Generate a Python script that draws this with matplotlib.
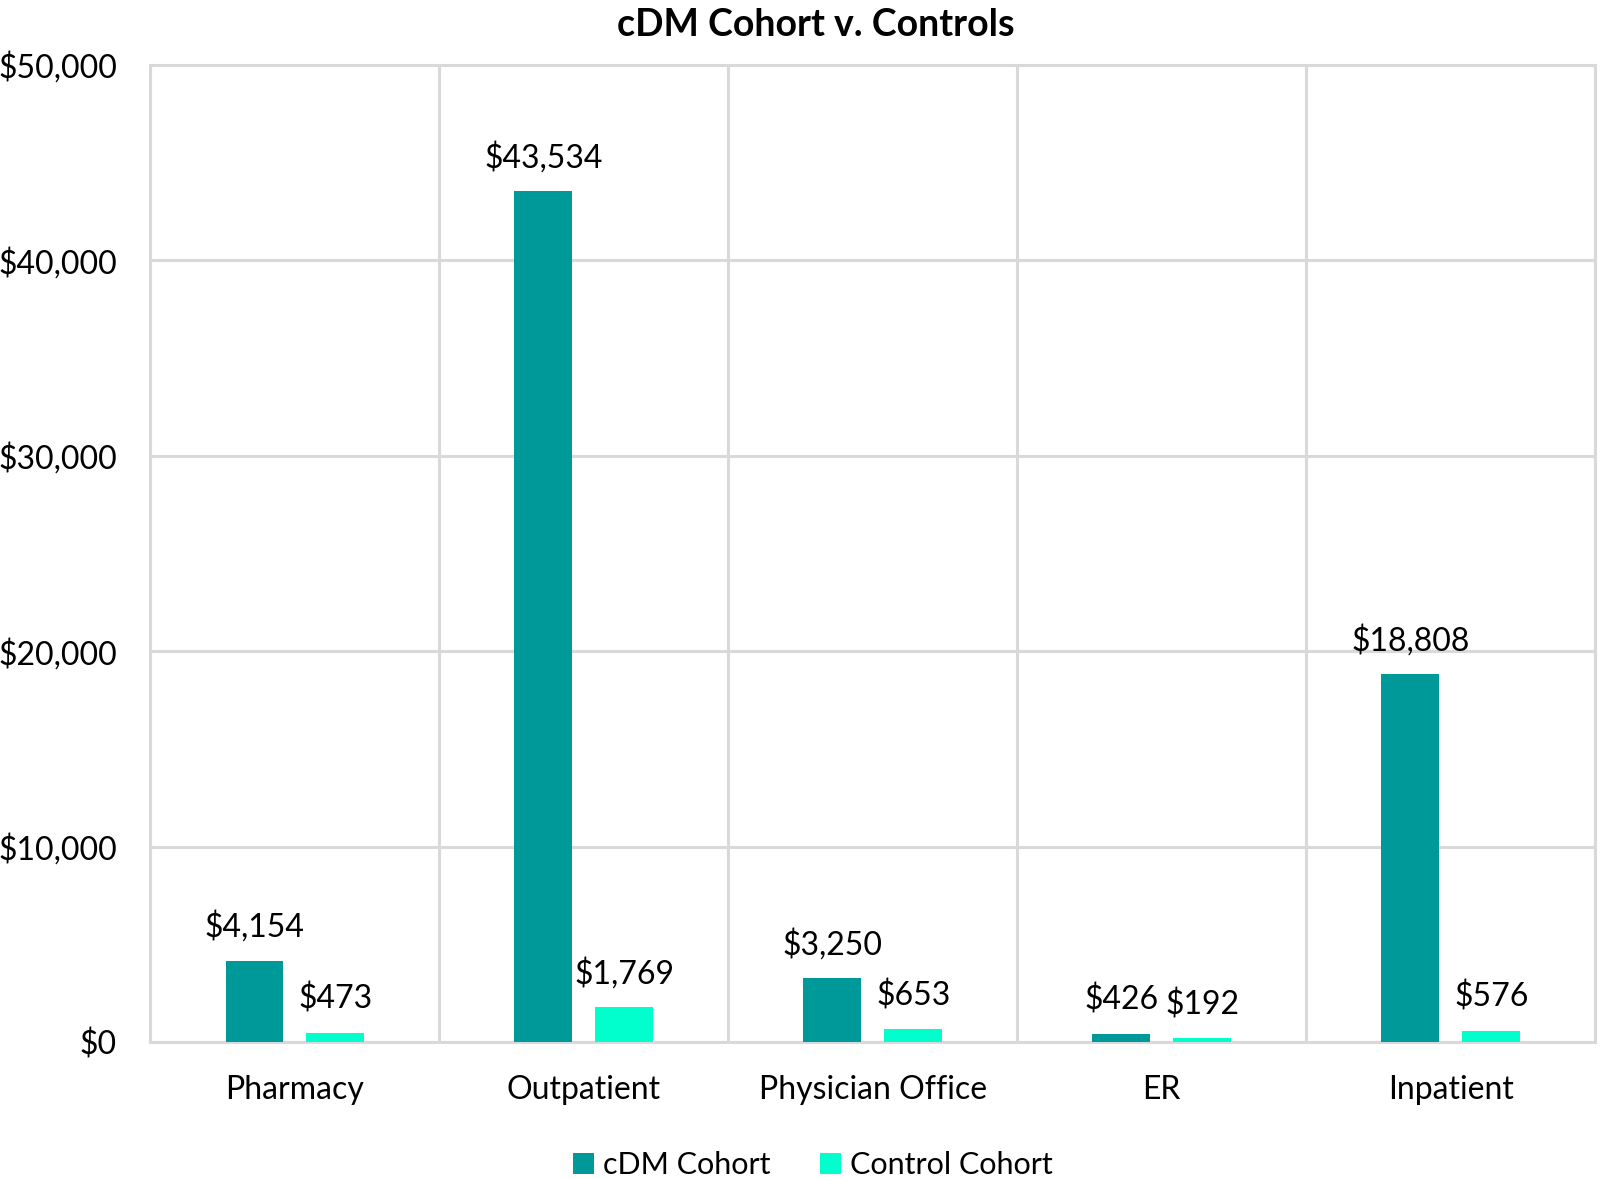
import numpy as np
import matplotlib.pyplot as plt
from matplotlib.ticker import FuncFormatter, MultipleLocator

categories = ['Pharmacy', 'Outpatient', 'Physician Office', 'ER', 'Inpatient']
cdm_cohort = [4154, 43534, 3250, 426, 18808]
control_cohort = [473, 1769, 653, 192, 576]

plt.rcParams['font.family'] = ['Lato', 'DejaVu Sans']

fig = plt.figure(figsize=(16, 11.81), dpi=100)
ax = fig.add_axes([0.094, 0.1177, 0.903, 0.8273])

x = np.arange(len(categories))
w = 0.2
b1 = ax.bar(x - 0.14, cdm_cohort, w, color='#009999', label='cDM Cohort', zorder=3)
b2 = ax.bar(x + 0.14, control_cohort, w, color='#00FFCC', label='Control Cohort', zorder=3)

for bars in (b1, b2):
    for r in bars:
        ax.annotate('${:,.0f}'.format(r.get_height()),
                    (r.get_x() + r.get_width() / 2, r.get_height()),
                    xytext=(0, 13), textcoords='offset points',
                    ha='center', va='bottom', fontsize=23)

ax.set_xlim(-0.5, len(categories) - 0.5)
ax.set_ylim(0, 50000)
ax.yaxis.set_major_locator(MultipleLocator(10000))
ax.yaxis.set_major_formatter(FuncFormatter(lambda v, p: '${:,.0f}'.format(v)))
ax.set_xticks(x)
ax.set_xticklabels(categories)
ax.set_xticks(np.arange(-0.5, len(categories), 1), minor=True)

ax.grid(axis='y', which='major', color='#D9D9D9', linewidth=2.2, zorder=0)
ax.grid(axis='x', which='minor', color='#D9D9D9', linewidth=2.2, zorder=0)
ax.tick_params(which='both', length=0, labelsize=23)
ax.tick_params(axis='x', pad=24)
ax.tick_params(axis='y', pad=24)
for s in ax.spines.values():
    s.set_color('#D9D9D9')
    s.set_linewidth(2.2)

fig.suptitle('cDM Cohort v. Controls', fontsize=27, fontweight='bold', x=0.51, y=0.993)
fig.legend(loc='lower center', ncol=2, frameon=False, fontsize=22,
           bbox_to_anchor=(0.508, -0.022), handlelength=0.7, handleheight=0.7,
           handletextpad=0.3, columnspacing=1.6)

fig.savefig('out.png')
